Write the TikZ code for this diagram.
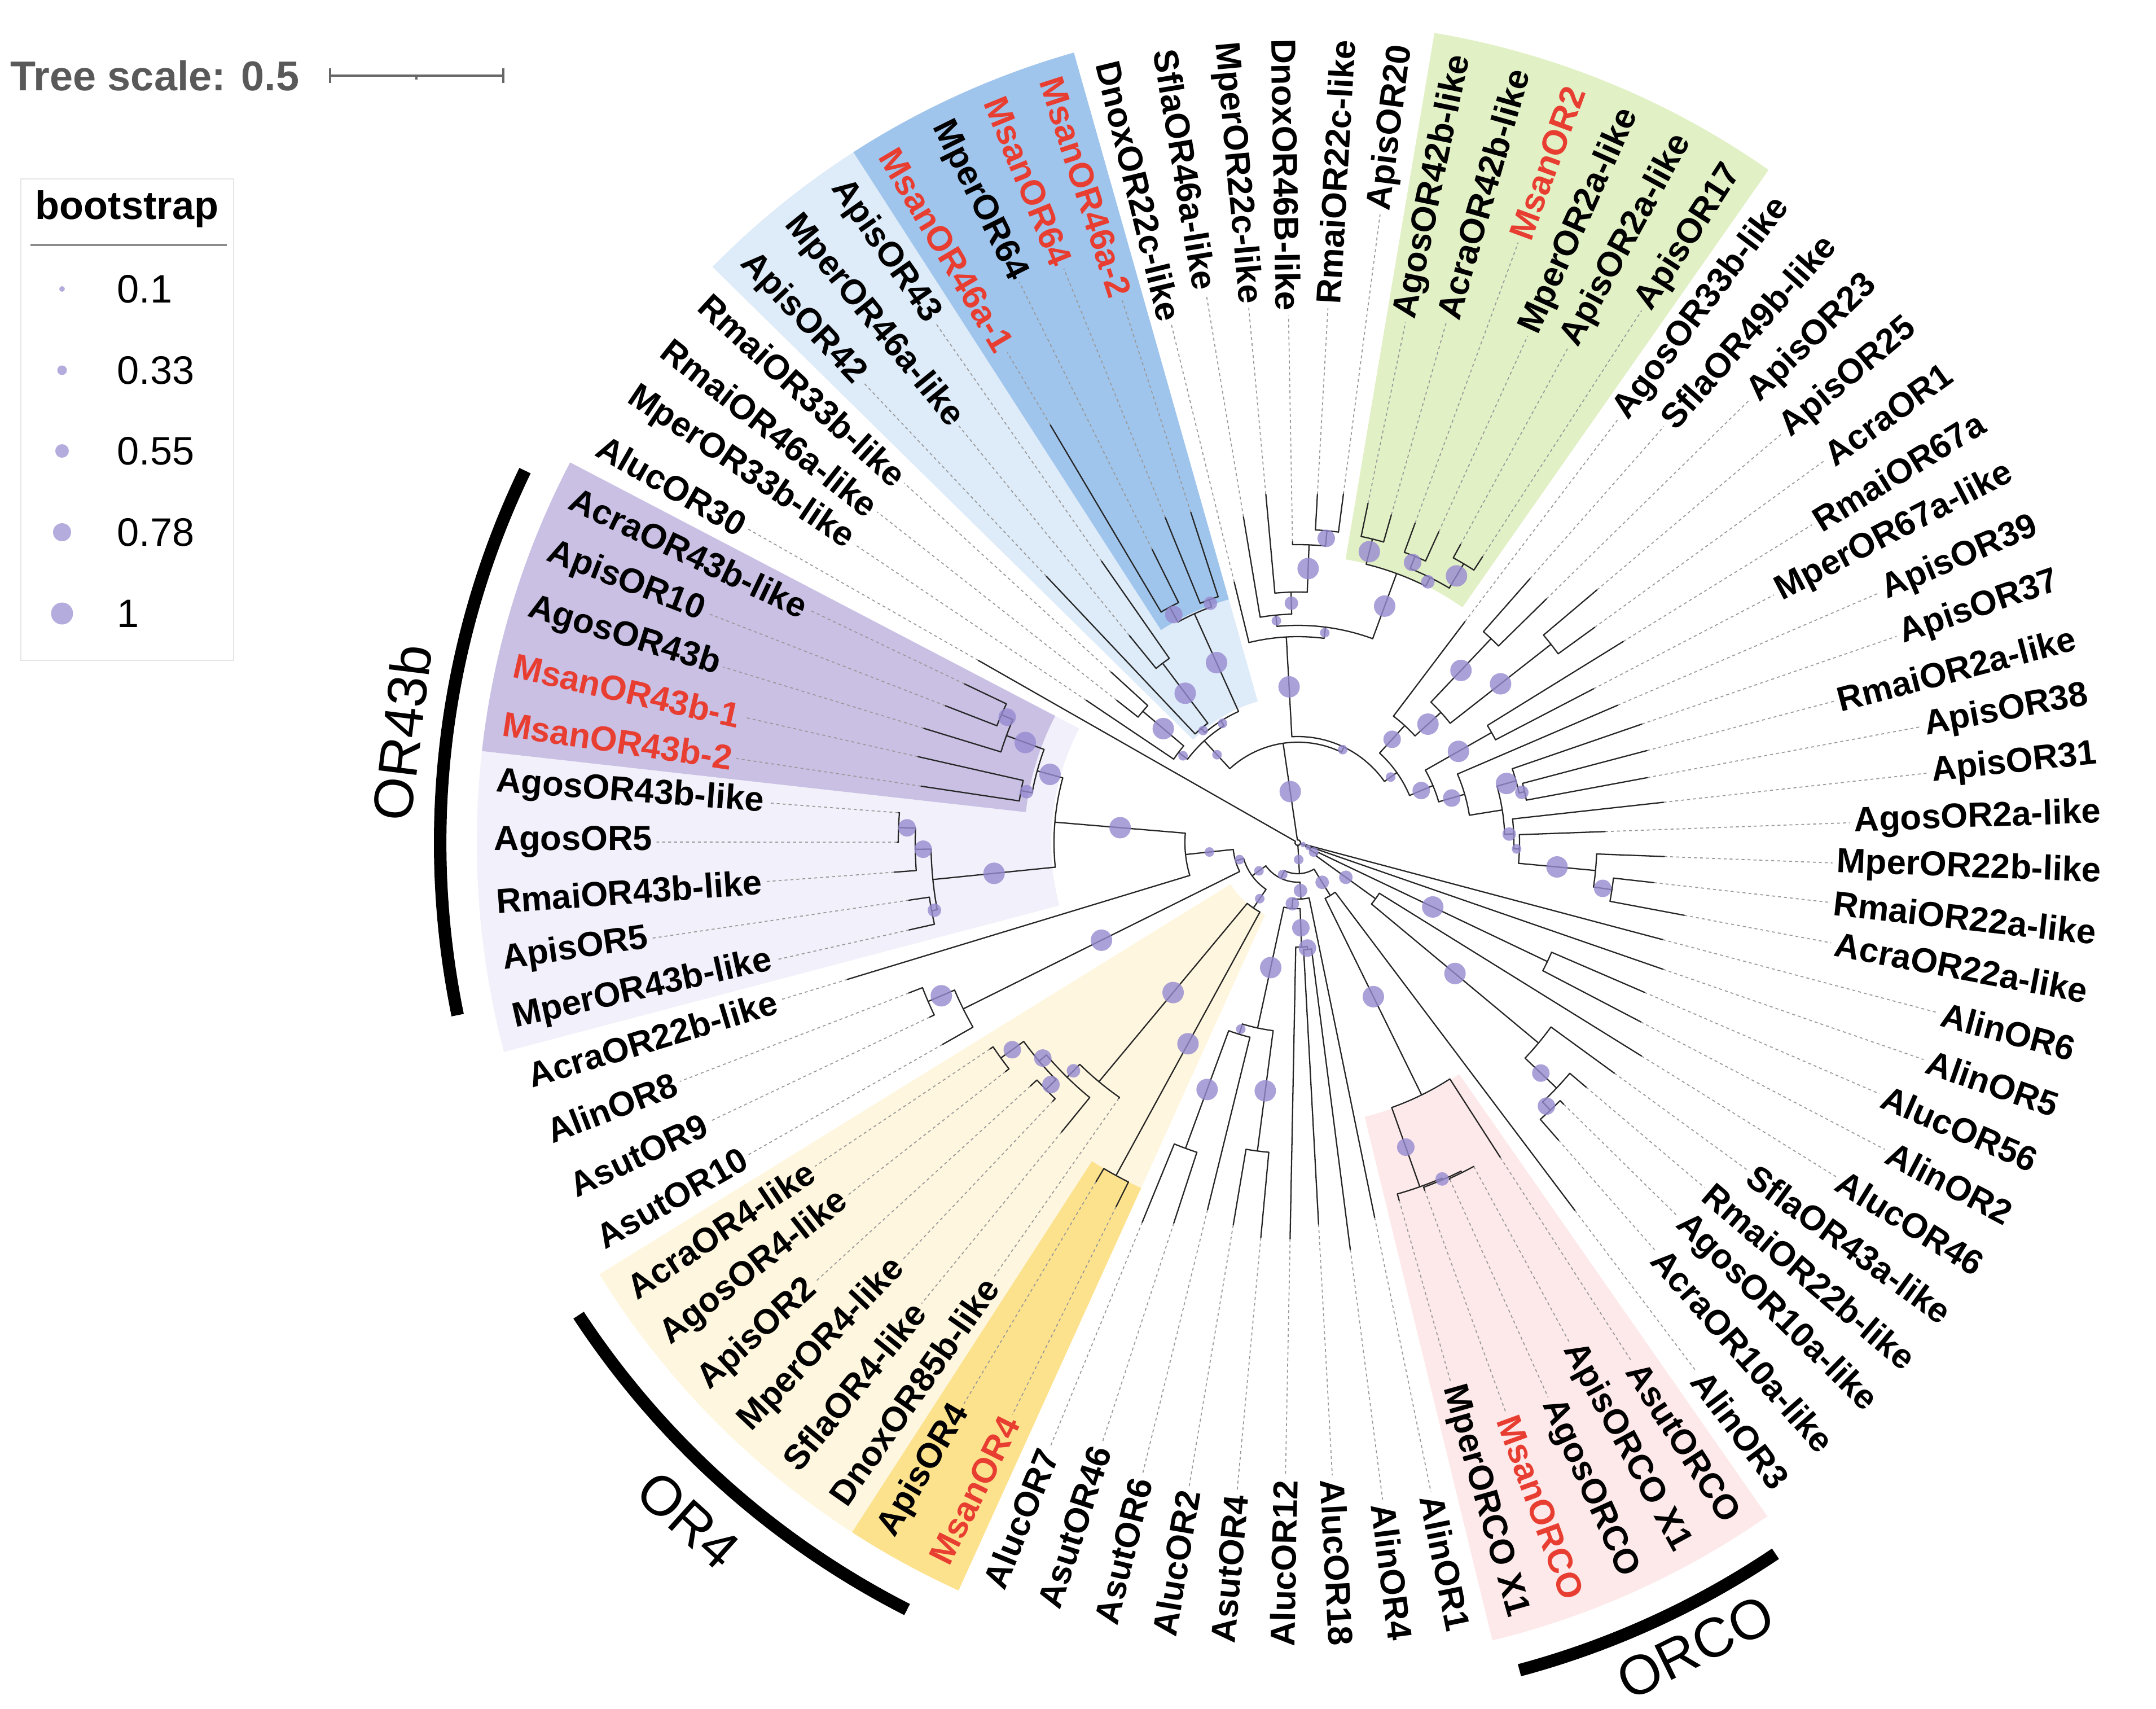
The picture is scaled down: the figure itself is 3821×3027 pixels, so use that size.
\documentclass[tikz,border=0pt]{standalone}
\usepackage{fontspec}
\setmainfont{Liberation Sans}
\begin{document}
\definecolor{msred}{RGB}{232,62,50}
\definecolor{bootcol}{RGB}{150,138,208}
\definecolor{wpurple}{RGB}{201,192,228}
\definecolor{wlav}{RGB}{242,240,250}
\definecolor{wlblue}{RGB}{222,235,248}
\definecolor{wdblue}{RGB}{160,197,236}
\definecolor{wgreen}{RGB}{226,240,198}
\definecolor{wlyel}{RGB}{254,246,222}
\definecolor{wdyel}{RGB}{253,226,142}
\definecolor{wpink}{RGB}{253,233,233}
\tikzset{
 br/.style={line width=0.65pt,line cap=round,line join=round,draw=black!85},
 dotln/.style={line width=0.5pt,draw=black!40,dash pattern=on 1.5pt off 1.5pt},
 lbl/.style={font=\fontsize{17.5}{20}\selectfont\bfseries,inner sep=2pt},
 grp/.style={font=\fontsize{28}{32}\selectfont,inner sep=0pt},
}
\newcommand\TA[1]{\csname TA@#1\endcsname}
\newcommand\TR[1]{\csname TR@#1\endcsname}
\newcommand\TB[1]{\csname TB@#1\endcsname}
\gdef\CircList{}
\newcommand\Boot[3]{%
  \ifcase#3\relax\def\bsr{0}\or\def\bsr{5}\or\def\bsr{8.5}\or\def\bsr{12}\or\def\bsr{15.5}\or\def\bsr{19}\fi
  \fill[bootcol,fill opacity=0.8] (#1:#2) circle[radius=\bsr];%
}
\newcommand\Leaf[4]{%
  \pgfmathsetmacro\lfA{150.3+(#1-1)*4.2352941}%
  \expandafter\xdef\csname TA@L#1\endcsname{\lfA}%
  \expandafter\xdef\csname TR@L#1\endcsname{#2}%
  \expandafter\xdef\csname TB@L#1\endcsname{0}%
  \pgfmathsetmacro\lfC{cos(\lfA)}%
  \ifdim\lfC pt<0pt
    \pgfmathsetmacro\lfR{\lfA+180}%
    \node[lbl,text=#4,anchor=west,rotate=\lfR] (lb#1) at (\lfA:1432) {#3};
    \draw[dotln] (\lfA:#2) -- (lb#1.east);
  \else
    \node[lbl,text=#4,anchor=east,rotate=\lfA] (lb#1) at (\lfA:1432) {#3};
    \draw[dotln] (\lfA:#2) -- (lb#1.west);
  \fi
}
\newcommand\Node[4]{%
  \global\let\Tfirst\relax
  \foreach \ch in {#4}{%
    \ifx\Tfirst\relax\xdef\Tfirst{\ch}\fi
    \xdef\Tlast{\ch}%
  }%
  \pgfmathsetmacro\aF{\TA{\Tfirst}}%
  \pgfmathsetmacro\aL{\TA{\Tlast}}%
  \pgfmathsetmacro\aM{(\aF+\aL)/2}%
  \expandafter\xdef\csname TA@#1\endcsname{\aM}%
  \expandafter\xdef\csname TR@#1\endcsname{#2}%
  \expandafter\xdef\csname TB@#1\endcsname{#3}%
  \draw[br] (\aF:#2) arc[start angle=\aF,end angle=\aL,radius=#2];
  \foreach \ch in {#4}{%
    \edef\nA{\TA{\ch}}\edef\nR{\TR{\ch}}\edef\nB{\TB{\ch}}%
    \draw[br] (\nA:#2) -- (\nA:\nR);
    \ifnum\nB>0
      \pgfmathsetmacro\nM{(#2+\nR)/2}%
      \xdef\CircList{\unexpanded\expandafter{\CircList}\noexpand\Boot{\nA}{\nM}{\nB}}%
    \fi
  }%
}
\newcommand\Wedge[5]{%
  \pgfmathsetmacro\wa{150.3+(#2-1)*4.2352941-2.1176}%
  \pgfmathsetmacro\wb{150.3+(#3-1)*4.2352941+2.1176}%
  \fill[#1] (\wa:#4) arc[start angle=\wa,end angle=\wb,radius=#4] -- (\wb:#5) arc[start angle=\wb,end angle=\wa,radius=#5] -- cycle;
}
\begin{tikzpicture}[x=0.1mm,y=0.1mm]
\useasboundingbox (-2300,-1534) rectangle (1521,1493);
% wedges
\Wedge{wlav}{2}{11}{437}{1455}
\Wedge{wpurple}{2}{6}{485}{1455}
\Wedge{wlblue}{76}{82}{260}{1455}
\Wedge{wdblue}{76}{79}{448}{1455}
\Wedge{wgreen}{64}{69}{509}{1455}
\Wedge{wlyel}{16}{23}{140}{1455}
\Wedge{wdyel}{22}{23}{672}{1455}
\Wedge{wpink}{33}{37}{500}{1455}
% group arcs
\draw[line width=6.3pt] (154.3:1520) arc[start angle=154.3,end angle=191.6,radius=1520];
\draw[line width=6.3pt] (213.3:1525) arc[start angle=213.3,end angle=243,radius=1525];
\draw[line width=6.3pt] (285:1518) arc[start angle=285,end angle=303.9,radius=1518];
\node[grp,rotate=83] (gOR43b) at (173:1600) {OR43b};
\node[grp,rotate=318] (gOR4) at (228:1615) {OR4};
\node[grp,rotate=26.3] (gORCO) at (296.3:1590) {ORCO};
% leaves
\Leaf{1}{652}{AlucOR30}{black}
\Leaf{2}{654}{AcraOR43b-like}{black}
\Leaf{3}{670}{ApisOR10}{black}
\Leaf{4}{693}{AgosOR43b}{black}
\Leaf{5}{690}{MsanOR43b-1}{msred}
\Leaf{6}{675}{MsanOR43b-2}{msred}
\Leaf{7}{710}{AgosOR43b-like}{black}
\Leaf{8}{710}{AgosOR5}{black}
\Leaf{9}{717}{RmaiOR43b-like}{black}
\Leaf{10}{697}{ApisOR5}{black}
\Leaf{11}{706}{MperOR43b-like}{black}
\Leaf{12}{834}{AcraOR22b-like}{black}
\Leaf{13}{739}{AlinOR8}{black}
\Leaf{14}{722}{AsutOR9}{black}
\Leaf{15}{724}{AsutOR10}{black}
\Leaf{16}{657}{AcraOR4-like}{black}
\Leaf{17}{658}{AgosOR4-like}{black}
\Leaf{18}{641}{ApisOR2}{black}
\Leaf{19}{631}{MperOR4-like}{black}
\Leaf{20}{662}{SflaOR4-like}{black}
\Leaf{21}{553}{DnoxOR85b-like}{black}
\Leaf{22}{699}{ApisOR4}{black}
\Leaf{23}{721}{MsanOR4}{msred}
\Leaf{24}{727}{AlucOR7}{black}
\Leaf{25}{709}{AsutOR46}{black}
\Leaf{26}{670}{AsutOR6}{black}
\Leaf{27}{687}{AlucOR2}{black}
\Leaf{28}{703}{AsutOR4}{black}
\Leaf{29}{702}{AlucOR12}{black}
\Leaf{30}{677}{AlucOR18}{black}
\Leaf{31}{727}{AlinOR4}{black}
\Leaf{32}{678}{AlinOR1}{black}
\Leaf{33}{659}{MperORCO X1}{black}
\Leaf{34}{656}{MsanORCO}{msred}
\Leaf{35}{655}{AgosORCO}{black}
\Leaf{36}{653}{ApisORCO X1}{black}
\Leaf{37}{663}{AsutORCO}{black}
\Leaf{38}{816}{AlinOR3}{black}
\Leaf{39}{701}{AcraOR10a-like}{black}
\Leaf{40}{661}{AgosOR10a-like}{black}
\Leaf{41}{670}{RmaiOR22b-like}{black}
\Leaf{42}{694}{SflaOR43a-like}{black}
\Leaf{43}{717}{AlucOR46}{black}
\Leaf{44}{686}{AlinOR2}{black}
\Leaf{45}{669}{AlucOR56}{black}
\Leaf{46}{685}{AlinOR5}{black}
\Leaf{47}{669}{AlinOR6}{black}
\Leaf{48}{697}{AcraOR22a-like}{black}
\Leaf{49}{635}{RmaiOR22a-like}{black}
\Leaf{50}{650}{MperOR22b-like}{black}
\Leaf{51}{545}{AgosOR2a-like}{black}
\Leaf{52}{652}{ApisOR31}{black}
\Leaf{53}{630}{ApisOR38}{black}
\Leaf{54}{640}{RmaiOR2a-like}{black}
\Leaf{55}{645}{ApisOR37}{black}
\Leaf{56}{617}{ApisOR39}{black}
\Leaf{57}{591}{MperOR67a-like}{black}
\Leaf{58}{678}{RmaiOR67a}{black}
\Leaf{59}{650}{AcraOR1}{black}
\Leaf{60}{694}{ApisOR25}{black}
\Leaf{61}{617}{ApisOR23}{black}
\Leaf{62}{623}{SflaOR49b-like}{black}
\Leaf{63}{491}{AgosOR33b-like}{black}
\Leaf{64}{603}{ApisOR17}{black}
\Leaf{65}{602}{ApisOR2a-like}{black}
\Leaf{66}{605}{MperOR2a-like}{black}
\Leaf{67}{603}{MsanOR2}{msred}
\Leaf{68}{604}{AcraOR42b-like}{black}
\Leaf{69}{614}{AgosOR42b-like}{black}
\Leaf{70}{623}{ApisOR20}{black}
\Leaf{71}{618}{RmaiOR22c-like}{black}
\Leaf{72}{533}{DnoxOR46B-like}{black}
\Leaf{73}{620}{MperOR22c-like}{black}
\Leaf{74}{585}{SflaOR46a-like}{black}
\Leaf{75}{475}{DnoxOR22c-like}{black}
\Leaf{76}{615}{MsanOR46a-2}{msred}
\Leaf{77}{622}{MsanOR64}{msred}
\Leaf{78}{580}{MperOR64}{black}
\Leaf{79}{860}{MsanOR46a-1}{msred}
\Leaf{80}{608}{ApisOR43}{black}
\Leaf{81}{473}{MperOR46a-like}{black}
\Leaf{82}{649}{ApisOR42}{black}
\Leaf{83}{448}{RmaiOR33b-like}{black}
\Leaf{84}{408}{RmaiOR46a-like}{black}
\Leaf{85}{452}{MperOR33b-like}{black}
% internal nodes
\Node{A}{572}{4}{L2,L3}
\Node{B}{550}{5}{A,L4}
\Node{D}{499}{3}{L5,L6}
\Node{C}{479}{5}{B,D}
\Node{J}{708}{4}{L7,L8}
\Node{K}{678}{4}{J,L9}
\Node{M}{660}{3}{L10,L11}
\Node{NL}{650}{5}{K,M}
\Node{E}{432}{5}{C,NL}
\Node{F}{200}{2}{E,L12}
\Node{I}{713}{5}{L13,L14}
\Node{H}{662}{5}{I,L15}
\Node{G}{115}{2}{F,H}
\Node{Z1}{650}{4}{L16,L17}
\Node{Z2}{625}{4}{L18,L19}
\Node{Y2}{600}{4}{Z1,Z2}
\Node{Y1}{583}{3}{Y2,L20}
\Node{X1}{551}{5}{Y1,L21}
\Node{W}{672}{5}{L22,L23}
\Node{U}{140}{2}{X1,W}
\Node{GA}{100}{2}{G,U}
\Node{AA}{577}{5}{L24,L25}
\Node{AB}{355}{2}{AA,L26}
\Node{AC}{551}{5}{L27,L28}
\Node{AD}{336}{5}{AB,AC}
\Node{AE2}{190}{4}{L30,L31}
\Node{AE}{185}{4}{L29,AE2}
\Node{AF}{117}{3}{AD,AE}
\Node{AG}{100}{3}{AF,L32}
\Node{GB}{70}{2}{GA,AG}
\Node{AI3}{653}{0}{L35,L36}
\Node{AI2}{650}{3}{L34,AI3}
\Node{AI1}{647}{4}{L33,AI2}
\Node{AH}{498}{5}{AI1,L37}
\Node{AQ}{110}{3}{AH,L38}
\Node{GC}{55}{2}{GB,AQ}
\Node{AM}{652}{4}{L39,L40}
\Node{AL}{632}{4}{AM,L41}
\Node{AK}{555}{5}{AL,L42}
\Node{AN}{170}{3}{AK,L43}
\Node{AJ}{490}{5}{L44,L45}
\Node{RTb}{40}{2}{AN,AJ}
\Node{RTc}{25}{1}{RTb,L46}
\Node{RTd}{15}{1}{RTc,L47}
\Node{BC}{563}{4}{L48,L49}
\Node{BB}{530}{5}{BC,L50}
\Node{BA}{393}{2}{BB,L51}
\Node{BD}{383}{3}{BA,L52}
\Node{Rsa}{412}{3}{L53,L54}
\Node{Rs}{402}{5}{Rsa,L55}
\Node{BJ}{367}{0}{BD,Rs}
\Node{Rt}{308}{4}{BJ,L56}
\Node{Ru}{395}{5}{L57,L58}
\Node{Rv}{260}{4}{Rt,Ru}
\Node{Rw}{570}{5}{L59,L60}
\Node{Rz}{498}{5}{L61,L62}
\Node{Ry}{343}{5}{Rw,Rz}
\Node{Rx}{281}{4}{Ry,L63}
\Node{RR}{215}{2}{Rv,Rx}
\Node{CC}{575}{5}{L64,L65}
\Node{CB}{548}{4}{L66,L67}
\Node{CD}{525}{3}{CC,CB}
\Node{CA}{554}{5}{L68,L69}
\Node{CE}{508}{5}{CD,CA}
\Node{S1}{555}{4}{L70,L71}
\Node{S2}{528}{5}{S1,L72}
\Node{S3}{444}{3}{S2,L73}
\Node{S4}{405}{2}{S3,L74}
\Node{S6}{385}{2}{CE,S4}
\Node{S7}{365}{5}{S6,L75}
\Node{T2}{188}{2}{RR,S7}
\Node{N2}{458}{3}{L76,L77}
\Node{N1}{475}{4}{L78,L79}
\Node{N3}{445}{5}{N2,N1}
\Node{P1}{398}{5}{L80,L81}
\Node{P2}{265}{2}{P1,L82}
\Node{N4}{255}{2}{N3,P2}
\Node{Q1}{360}{5}{L83,L84}
\Node{Q2}{265}{2}{Q1,L85}
\Node{Q3}{245}{2}{N4,Q2}
\Node{T}{178}{5}{T2,Q3}
\Node{ROOT}{5}{0}{L1,GC,RTd,T}
% bootstrap circles
\CircList
% tree scale
\node[anchor=west,inner sep=0pt,font=\fontsize{21}{25}\selectfont\bfseries,text=black!65] (tscale) at (-2282,1359) {Tree scale: 0.5};
\coordinate (sbA) at (-1715,1359);
\coordinate (sbB) at (-1408,1359);
\draw[black!60,line width=1pt] (sbA) -- (sbB);
\draw[black!60,line width=1pt] (-1715,1346) -- (-1715,1372);
\draw[black!60,line width=1pt] (-1408,1346) -- (-1408,1372);
\draw[black!60,line width=1pt] (-1562,1359) -- (-1562,1352);
% legend
\draw[draw=black!10,line width=0.6pt,fill=white] (-2263,1176) rectangle (-1886,323);
\node[font=\fontsize{20}{24}\selectfont\bfseries] (ltitle) at (-2075,1123) {bootstrap};
\draw[black!45,line width=0.9pt] (-2246,1059) -- (-1898,1059);
\foreach \ly/\lrad/\ltx in {981/5/0.1,837/8.5/0.33,694/12/0.55,550/16/0.78,406/19.5/1}{
  \fill[bootcol,fill opacity=0.7] (-2190,\ly) circle[radius=\lrad];
  \node[anchor=west,inner sep=0pt,font=\fontsize{20}{24}\selectfont] at (-2093,\ly) {\ltx};
}
\end{tikzpicture}
\end{document}
